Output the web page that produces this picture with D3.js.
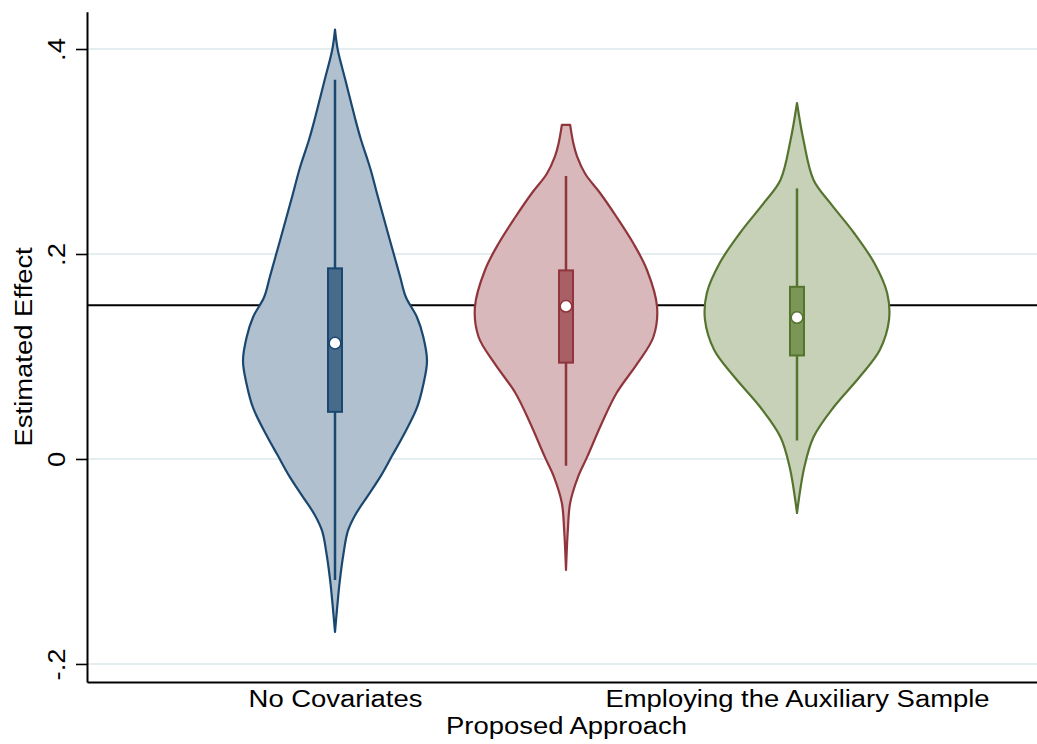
<!DOCTYPE html>
<html>
<head>
<meta charset="utf-8">
<script src="https://cdn.jsdelivr.net/npm/d3@7"></script>
<style>
  html, body { margin: 0; padding: 0; background: #fff; }
  svg { display: block; }
  text { font-family: "Liberation Sans", Arial, Helvetica, sans-serif; fill: #000; }
</style>
</head>
<body>
<svg id="chart" width="1037" height="744"></svg>
<script>
// Categories on the x axis (labels alternate between two rows)
const categories = ["No Covariates", "Proposed Approach", "Employing the Auxiliary Sample"];

// Y axis ticks
const yTicks = [-0.2, 0, 0.2, 0.4];
const yTickLabels = ["-.2", "0", ".2", ".4"];

// Horizontal reference line (true effect)
const referenceValue = 0.15;

// Kernel density outlines: evaluation points and relative density (peak = 1)
const noCovGrid    = [0.419, 0.3993, 0.3707, 0.3317, 0.3122, 0.2930, 0.2815, 0.2546, 0.2351, 0.2156, 0.1964, 0.1771, 0.1580, 0.1385, 0.1190, 0.0959, 0.0727, 0.0498, 0.0224, 0.0031, -0.0162, -0.0355, -0.0546, -0.0702, -0.0937, -0.1206, -0.1434, -0.1688];
const noCovDensity = [0, 0.03, 0.11, 0.22, 0.28, 0.35, 0.39, 0.47, 0.53, 0.59, 0.65, 0.71, 0.77, 0.89, 0.96, 1.0, 0.96, 0.89, 0.74, 0.62, 0.50, 0.36, 0.22, 0.14, 0.09, 0.05, 0.025, 0];

const proposedGrid    = [0.3259, 0.3080, 0.2952, 0.2780, 0.2595, 0.2361, 0.2107, 0.1844, 0.1483, 0.1190, 0.0937, 0.0644, 0.0351, 0.0020, -0.0176, -0.0429, -0.0693, -0.1083];
const proposedDensity = [0.045, 0.08, 0.12, 0.21, 0.37, 0.55, 0.73, 0.88, 0.99, 0.95, 0.78, 0.55, 0.39, 0.23, 0.13, 0.045, 0.02, 0];

const auxGrid    = [0.3473, 0.3112, 0.2722, 0.2498, 0.2205, 0.1912, 0.1620, 0.1356, 0.1063, 0.0800, 0.0507, 0.0215, -0.0078, -0.0527];
const auxDensity = [0, 0.07, 0.18, 0.36, 0.62, 0.84, 0.98, 1.0, 0.90, 0.68, 0.40, 0.18, 0.08, 0];

// Box plot summaries per category
const whiskerLow  = [-0.118, -0.0065, 0.018];
const quartile1   = [0.046, 0.094, 0.101];
const medians     = [0.113, 0.149, 0.138];
const quartile3   = [0.186, 0.184, 0.168];
const whiskerHigh = [0.370, 0.276, 0.264];

// Colours per category: outline, violin fill, box fill
const lineColors = ["#1a476f", "#90353b", "#55752f"];
const fillColors = ["#b0c0cf", "#d9b8bb", "#c6d1b8"];
const boxColors  = ["#486b8c", "#a85f65", "#7a9757"];

const grids = [noCovGrid, proposedGrid, auxGrid];
const densities = [noCovDensity, proposedDensity, auxDensity];

const svg = d3.select("#chart");
const W = 1037;
const plotLeft = 87, plotBottom = 682, plotTop = 11.7;
const fontSize = 24.5;
const textScale = 1.12;

const y = d3.scaleLinear().domain([-0.2176, 0.4364]).range([plotBottom, plotTop]);
const x = d3.scalePoint().domain(categories).range([plotLeft, 1045]).padding(1.0736);
const halfWidth = d3.scaleLinear().domain([0, 1]).range([0, 92]);

// Grid lines
svg.append("g").selectAll("line").data(yTicks).join("line")
  .attr("x1", plotLeft).attr("x2", W)
  .attr("y1", d => y(d)).attr("y2", d => y(d))
  .attr("stroke", "#e4eef0").attr("stroke-width", 2);

// Reference line
svg.append("line")
  .attr("x1", plotLeft).attr("x2", W)
  .attr("y1", y(referenceValue)).attr("y2", y(referenceValue))
  .attr("stroke", "#000").attr("stroke-width", 2);

// Violins
categories.forEach((cat, i) => {
  const cx = x(cat);
  const pts = grids[i].map((v, k) => ({ v, d: densities[i][k] }));
  const area = d3.area()
    .y(p => y(p.v))
    .x0(p => cx - halfWidth(p.d))
    .x1(p => cx + halfWidth(p.d))
    .curve(d3.curveCatmullRom.alpha(0.5));
  const g = svg.append("g");
  g.append("path")
    .attr("d", area(pts))
    .attr("fill", fillColors[i])
    .attr("stroke", lineColors[i])
    .attr("stroke-width", 2.2)
    .attr("stroke-linejoin", "round");

  // whisker
  g.append("line")
    .attr("x1", cx).attr("x2", cx)
    .attr("y1", y(whiskerLow[i])).attr("y2", y(whiskerHigh[i]))
    .attr("stroke", lineColors[i]).attr("stroke-width", 2.5);

  // interquartile box
  const bw = 14;
  g.append("rect")
    .attr("x", cx - bw / 2)
    .attr("y", y(quartile3[i]))
    .attr("width", bw)
    .attr("height", y(quartile1[i]) - y(quartile3[i]))
    .attr("fill", boxColors[i])
    .attr("stroke", lineColors[i])
    .attr("stroke-width", 2);

  // median marker
  g.append("circle")
    .attr("cx", cx).attr("cy", y(medians[i]))
    .attr("r", 5.8)
    .attr("fill", "#fff")
    .attr("stroke", lineColors[i])
    .attr("stroke-width", 1.5);
});

// Y axis
const yAxis = svg.append("g")
  .attr("transform", `translate(${plotLeft},0)`)
  .call(d3.axisLeft(y).tickValues(yTicks).tickSize(11).tickSizeOuter(0)
    .tickFormat((d, i) => yTickLabels[i]));
yAxis.select(".domain").attr("stroke", "#000").attr("stroke-width", 2);
yAxis.selectAll(".tick line").attr("stroke", "#000").attr("stroke-width", 1.6);
yAxis.selectAll(".tick text")
  .attr("x", null).attr("dy", null)
  .attr("transform", `translate(-22,0) rotate(-90) scale(${textScale},1)`)
  .attr("text-anchor", "middle")
  .attr("font-size", fontSize)
  .attr("font-family", null);

// X axis
const xAxis = svg.append("g")
  .attr("transform", `translate(0,${plotBottom})`)
  .call(d3.axisBottom(x).tickSize(0).tickSizeOuter(0));
xAxis.select(".domain").attr("stroke", "#000").attr("stroke-width", 2);
xAxis.selectAll(".tick text")
  .attr("y", null).attr("dy", null)
  .attr("transform", (d, i) => `translate(0,${i % 2 ? 52 : 25}) scale(${textScale},1)`)
  .attr("text-anchor", "middle")
  .attr("font-size", fontSize)
  .attr("font-family", null);

// Y axis title
svg.append("text")
  .attr("transform", `translate(31.5,${(plotTop + plotBottom) / 2}) rotate(-90) scale(${textScale},1)`)
  .attr("text-anchor", "middle")
  .attr("font-size", fontSize)
  .text("Estimated Effect");
</script>
</body>
</html>
